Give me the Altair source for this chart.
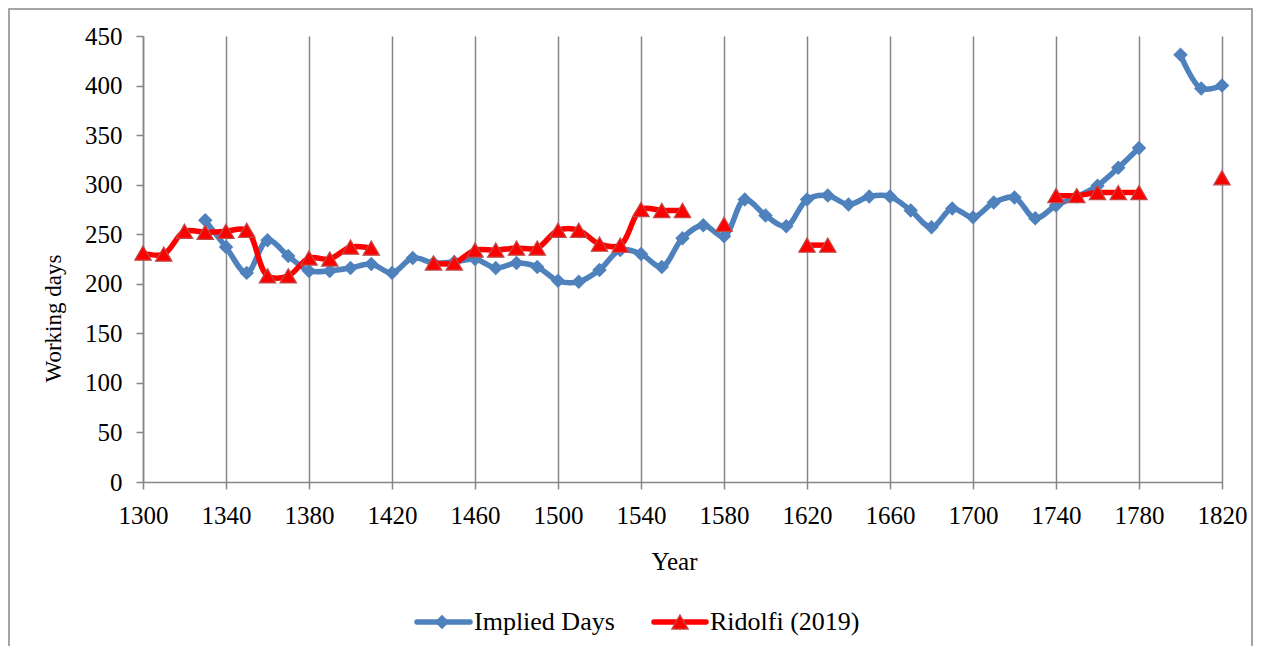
import altair as alt
import pandas as pd

implied_years = [1330, 1340, 1350, 1360, 1370, 1380, 1390, 1400, 1410, 1420,
                 1430, 1440, 1450, 1460, 1470, 1480, 1490, 1500, 1510, 1520,
                 1530, 1540, 1550, 1560, 1570, 1580, 1590, 1600, 1610, 1620,
                 1630, 1640, 1650, 1660, 1670, 1680, 1690, 1700, 1710, 1720,
                 1730, 1740, 1750, 1760, 1770, 1780, 1800, 1810, 1820]
implied_days = [264, 237, 211, 244, 228, 213, 213, 216, 220, 211,
                226, 221, 222, 225, 216, 221, 217, 203, 202, 214,
                234, 230, 217, 246, 259, 248, 285, 269, 258, 285,
                289, 280, 288, 288, 274, 257, 276, 267, 282, 287,
                266, 279, 288, 299, 317, 337, 431, 397, 400]

ridolfi_years = [1300, 1310, 1320, 1330, 1340, 1350, 1360, 1370, 1380, 1390,
                 1400, 1410, 1440, 1450, 1460, 1470, 1480, 1490, 1500, 1510,
                 1520, 1530, 1540, 1550, 1560, 1580, 1620, 1630, 1740, 1750,
                 1760, 1770, 1780, 1820]
ridolfi_days = [231, 230, 253, 252, 253, 254, 208, 208, 226, 225,
                237, 236, 221, 221, 234, 234, 236, 236, 254, 254,
                240, 239, 275, 274, 274, 260, 239, 239, 289, 289,
                292, 292, 292, 307]

x_ticks = list(range(1300, 1821, 40))
y_ticks = list(range(0, 451, 50))
series_names = ["Implied Days", "Ridolfi (2019)"]

BLUE = "#4F81BD"
RED = "#FF0000"
GRAY = "#868686"
FONT = "Liberation Serif"
DIAMOND_SIZE = 210
TRIANGLE_SIZE = 270


def build(name, years, vals):
    rows = []
    seg = 0
    for i, (yr, v) in enumerate(zip(years, vals)):
        if i > 0 and yr - years[i - 1] > 10:
            seg += 1
        rows.append({"series": name, "year": yr, "days": v, "seg": f"{name}-{seg}"})
    return rows


df = pd.DataFrame(build(series_names[0], implied_years, implied_days)
                  + build(series_names[1], ridolfi_years, ridolfi_days))

x_enc = alt.X("year:Q",
              scale=alt.Scale(domain=[1300, 1820], nice=False, zero=False),
              axis=alt.Axis(values=x_ticks, format="d", title="Year",
                            grid=True, gridColor=GRAY, gridWidth=1.5,
                            domainColor=GRAY, domainWidth=1.5,
                            tickColor=GRAY, tickWidth=1.5, tickSize=7,
                            labelFont=FONT, labelFontSize=25, labelColor="black",
                            labelBaseline="alphabetic", labelPadding=34,
                            labelFlush=False, labelOverlap=False,
                            titleFont=FONT, titleFontSize=25, titleFontWeight="normal",
                            titleColor="black", titleX=531, titleY=87,
                            titleBaseline="alphabetic"))
y_enc = alt.Y("days:Q",
              scale=alt.Scale(domain=[0, 450], nice=False),
              axis=alt.Axis(values=y_ticks, title="Working days", grid=False,
                            domainColor=GRAY, domainWidth=1.5,
                            tickColor=GRAY, tickWidth=1.5, tickSize=7,
                            labelFont=FONT, labelFontSize=25, labelColor="black",
                            labelPadding=14, labelFlush=False, labelOverlap=False,
                            titleFont=FONT, titleFontSize=23, titleFontWeight="normal",
                            titleColor="black", titleX=-90, titleY=282,
                            titleBaseline="middle", titleAlign="center"))

base = alt.Chart(df).encode(x=x_enc, y=y_enc)

blue_line = base.transform_filter(alt.datum.series == series_names[0]).mark_line(
    interpolate="catmull-rom", strokeWidth=5.5, color=BLUE, strokeJoin="round"
).encode(detail="seg:N")
blue_pts = base.transform_filter(alt.datum.series == series_names[0]).mark_point(
    shape="diamond", size=DIAMOND_SIZE, filled=True, color=BLUE, opacity=1
)
red_line = base.transform_filter(alt.datum.series == series_names[1]).mark_line(
    interpolate="catmull-rom", strokeWidth=5.5, color=RED, strokeJoin="round"
).encode(detail="seg:N")
red_pts = base.transform_filter(alt.datum.series == series_names[1]).mark_point(
    shape="triangle-up", size=TRIANGLE_SIZE, filled=True, fill=RED, stroke="#BE4B48",
    strokeWidth=1.2, opacity=1
)

one = pd.DataFrame({"k": [0]})
frame = alt.Chart(one).mark_rect(fill="white", fillOpacity=0, stroke=GRAY, strokeWidth=1.5).encode(
    x=alt.value(-134), x2=alt.value(1109), y=alt.value(-27), y2=alt.value(700))

LY = 586
leg_blue_line = alt.Chart(one).mark_rule(color=BLUE, strokeWidth=5.5, strokeCap="round").encode(
    x=alt.value(274), x2=alt.value(327), y=alt.value(LY))
leg_blue_pt = alt.Chart(one).mark_point(shape="diamond", size=DIAMOND_SIZE, filled=True, color=BLUE, opacity=1).encode(
    x=alt.value(299), y=alt.value(LY))
leg_blue_txt = alt.Chart(one).mark_text(font=FONT, fontSize=26, align="left", baseline="middle", color="black").encode(
    x=alt.value(331), y=alt.value(LY), text=alt.value(series_names[0]))
leg_red_line = alt.Chart(one).mark_rule(color=RED, strokeWidth=5.5, strokeCap="round").encode(
    x=alt.value(511), x2=alt.value(563), y=alt.value(LY))
leg_red_pt = alt.Chart(one).mark_point(shape="triangle-up", size=TRIANGLE_SIZE, filled=True, fill=RED,
                                      stroke="#BE4B48", strokeWidth=1.2, opacity=1).encode(
    x=alt.value(537), y=alt.value(LY))
leg_red_txt = alt.Chart(one).mark_text(font=FONT, fontSize=26, align="left", baseline="middle", color="black").encode(
    x=alt.value(567), y=alt.value(LY), text=alt.value(series_names[1]))

chart = alt.layer(
    frame, blue_line, blue_pts, red_line, red_pts,
    leg_blue_line, leg_blue_pt, leg_blue_txt, leg_red_line, leg_red_pt, leg_red_txt
).properties(
    width=1079, height=446,
    autosize=alt.AutoSizeParams(type="none"),
    padding={"left": 135, "top": 28, "right": 31, "bottom": 164},
    background="white"
).configure_view(stroke=None)

chart.save("out.html", embed_options={"renderer": "svg", "actions": False})
